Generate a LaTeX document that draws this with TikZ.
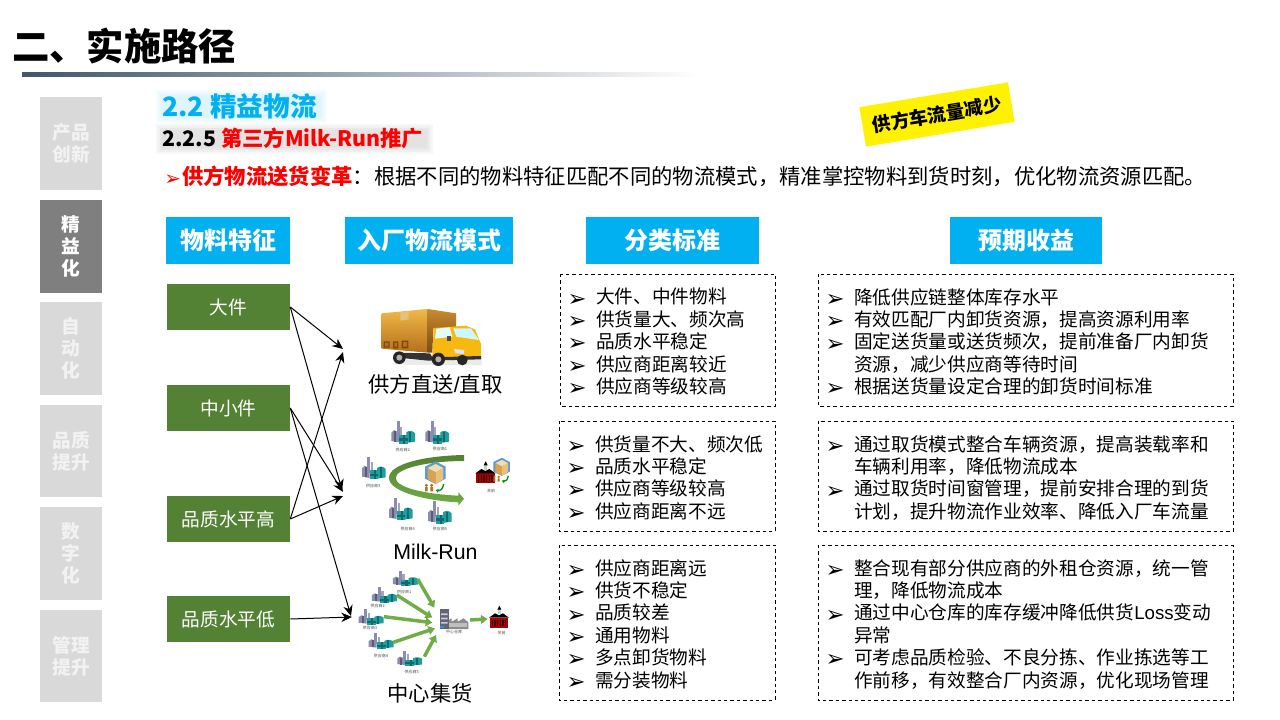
\documentclass[tikz,border=0pt]{standalone}
\usepackage{fontspec}
\setmainfont{Noto Sans CJK SC}
\newfontfamily\latf{Liberation Sans}
\newfontfamily\dej{DejaVu Sans}
\usetikzlibrary{arrows.meta}
\definecolor{hdrblue}{HTML}{00B0F0}
\definecolor{cellgreen}{HTML}{548235}
\definecolor{sidegray}{HTML}{D9D9D9}
\definecolor{sidedark}{HTML}{7F7F7F}
\definecolor{rulestart}{HTML}{44546A}
\definecolor{swoosh}{HTML}{70AD47}
\definecolor{swooshd}{HTML}{55812F}
\definecolor{teal1}{HTML}{1E9E9E}
\definecolor{teal2}{HTML}{0F6A6E}
\definecolor{chim}{HTML}{8A8DB0}
\definecolor{boxa}{HTML}{F0B848}
\definecolor{boxb}{HTML}{B5701A}
\definecolor{boxc}{HTML}{C88A2E}
\definecolor{boxd}{HTML}{7A4A12}
\definecolor{cabcol}{HTML}{F7B90F}
\definecolor{hexcol}{HTML}{5B9BD5}
\definecolor{tana}{HTML}{D9A24E}
\definecolor{tanb}{HTML}{E8C078}
\definecolor{tanc}{HTML}{F2DDB0}
\newcommand\bul{\makebox[20.25pt][l]{\smash{\raisebox{-1.6pt}{\dej\fontsize{17}{17}\selectfont\hspace{-1.2pt}➢}}}}
\newcommand\cont{\makebox[20.25pt]{}}
\newcommand\fa[6]{\pic at (#2,#3) {fact}; \node[tinylab] (#1) at (#5,#6) {#4};}
\newcommand\fb[6]{\pic[xscale=1.05,yscale=0.68] at (#2,#3) {fact}; \node[tinylab] (#1) at (#5,#6) {#4};}
\tikzset{
  sidebox/.style={minimum width=46.5pt,minimum height=69.5pt,inner sep=0pt,fill=sidegray,text=white!95!black,align=center,font=\fontsize{14}{16.5}\selectfont\bfseries},
  sideact/.style={sidebox,fill=sidedark,text=white},
  hdr/.style={fill=hdrblue,text=white,inner sep=0pt,minimum height=35.25pt,font=\fontsize{18}{20}\selectfont\bfseries},
  cell/.style={fill=cellgreen,text=white,inner sep=0pt,minimum width=92.25pt,minimum height=34.5pt,font=\fontsize{14}{16}\selectfont},
  dbox/.style={draw=black,line width=0.75pt,dash pattern=on 2.6pt off 2.2pt},
  body/.style={inner sep=0pt,anchor=north west,align=left,font=\fontsize{14}{16.8}\selectfont},
  capt/.style={inner sep=0pt,font=\fontsize{16}{18}\selectfont},
  link/.style={line width=0.75pt,-{Stealth[length=8pt,width=7pt]}},
  tinylab/.style={inner sep=0pt,text=black!70,font=\fontsize{3}{3}\selectfont},
  garrow/.style={draw=swoosh,line width=2.6pt,-{Triangle[length=5pt,width=6.5pt]}},
  fact/.pic={
    \fill[chim] (15,-66) rectangle (24,-18);
    \fill[chim!80!white] (26,-50) rectangle (32,-18);
    \fill[chim] (-1,-32) -- (7,-40) -- (22,-32) -- (22,-3) -- (-1,-7) -- cycle;
    \fill[chim!65!black] (8,-36) rectangle (13,-5);
    \fill[teal1] (22,-26) rectangle (48,1);
    \fill[teal1] (44,-33) .. controls (52,-40) and (64,-38) .. (70,-30) -- (70,-5) -- (44,-1) -- cycle;
    \fill[teal2] (22,-15) rectangle (48,-8);
    \fill[teal2] (34,-26) rectangle (41,1);
    \fill[teal2] (52,-35) rectangle (58,-3);
  },
  boxicon/.pic={
    \fill[hexcol] (0,-30) -- (32,-46) -- (62,-30) -- (62,6) -- (32,22) -- (0,6) -- cycle;
    \fill[tana] (8,-26) -- (32,-14) -- (32,22) -- (8,8) -- cycle;
    \fill[tanb] (32,-14) -- (55,-26) -- (55,8) -- (32,22) -- cycle;
    \fill[tanc] (8,-26) -- (32,-38) -- (55,-26) -- (32,-14) -- cycle;
    \fill[boxb] (4,26) circle (5) (20,26) circle (5);
    \fill[boxb] (0,31) rectangle (8,44) (16,31) rectangle (24,44);
    \draw[green!60!black,line width=1pt,-{Stealth[length=2.4pt,width=3pt]}] (56,22) .. controls (54,38) and (44,44) .. (32,40);
  },
  redfac/.pic={
    \fill[red!65!black] (-2,0) rectangle (54,-30);
    \fill[black] (-4,-30) -- (14,-43) -- (26,-37) -- (38,-43) -- (56,-30) -- cycle;
    \fill[white!80!black] (22,-56) rectangle (32,-40);
    \fill[black] (27,-66) -- (33,-54) -- (21,-54) -- cycle;
    \foreach \q in {6,14,22,30,38,46} \fill[black!75!red] (\q-2,-24) rectangle (\q+2,-4);
  }
}
\begin{document}
\begin{tikzpicture}[x=0.75pt,y=-0.75pt]
\useasboundingbox (0,0) rectangle (1280,720);
\fill[white] (0,0) rectangle (1280,720);
% title
\node[inner sep=0pt,anchor=west,font=\fontsize{28}{30}\selectfont\bfseries] (title) at (12,46) {二、实施路径};
\shade[left color=rulestart,right color=white] (22,73) rectangle (700,77);
% sidebar
\node[sidebox] (s1) at (71,143.5) {产品\\创新};
\node[sideact] (s2) at (71,246.5) {精\\益\\化};
\node[sidebox] (s3) at (71,348.5) {自\\动\\化};
\node[sidebox] (s4) at (71,451) {品质\\提升};
\node[sidebox] (s5) at (71,553.5) {数\\字\\化};
\node[sidebox] (s6) at (71,656) {管理\\提升};
% headings
\fill[hdrblue!4] (156,90) rectangle (327,123);
\fill[hdrblue!7] (158,92) rectangle (325,121);
\fill[hdrblue!10] (160,94) rectangle (323,119);
\fill[hdrblue!13] (162,96) rectangle (321,117);
\fill[black!3] (156,124) rectangle (433,154);
\fill[black!6] (158,126) rectangle (431,152);
\fill[black!9] (160,128) rectangle (429,150);
\fill[black!11] (162,130) rectangle (427,148);
\node[inner sep=0pt,anchor=west,text=hdrblue,font=\fontsize{20}{22}\selectfont\bfseries] (h22) at (162,106) {2.2 精益物流};
\node[inner sep=0pt,anchor=west,font=\fontsize{16}{18}\selectfont\bfseries] (h225) at (162,138.5) {2.2.5 \textcolor{red}{第三方Milk-Run推广}};
\node[inner sep=0pt,anchor=west,font=\fontsize{16}{18}\selectfont] (lead) at (164,176) {\textcolor{red}{\makebox[13.5pt][l]{\smash{\raisebox{-1.2pt}{\dej\fontsize{15}{15}\selectfont ➢}}}\bfseries 供方物流送货变革}：根据不同的物料特征匹配不同的物流模式，精准掌控物料到货时刻，优化物流资源匹配。};
% tag
\node[fill=yellow,rotate=9.5,minimum width=113pt,minimum height=30pt,inner sep=0pt,font=\fontsize{14}{16}\selectfont\bfseries] (tag) at (937,114.5) {供方车流量减少};
% headers
\node[hdr,minimum width=93pt] (c1) at (228,240.5) {物料特征};
\node[hdr,minimum width=126pt] (c2) at (429,240.5) {入厂物流模式};
\node[hdr,minimum width=129.75pt] (c3) at (672.5,240.5) {分类标准};
\node[hdr,minimum width=114pt] (c4) at (1026,240.5) {预期收益};
% cells
\node[cell] (big) at (228.5,307) {大件};
\node[cell] (mid) at (228.5,408) {中小件};
\node[cell] (qhi) at (228.5,519) {品质水平高};
\node[cell] (qlo) at (228.5,619) {品质水平低};
% tips
\coordinate (t1a) at (343,349);
\coordinate (t1b) at (343,352);
\coordinate (t2a) at (342,490);
\coordinate (t2b) at (343,492);
\coordinate (t2c) at (343,496);
\coordinate (t3a) at (351,616);
\coordinate (t3b) at (352,617);
\draw[link] (big.east) -- (t1a);
\draw[link] (big.east) -- (t2a);
\draw[link] (mid.east) -- (t2b);
\draw[link] (mid.east) -- (t3a);
\draw[link] (qhi.east) -- (t1b);
\draw[link] (qhi.east) -- (t2c);
\draw[link] (qlo.east) -- (t3b);
% truck
\begin{scope}[shift={(375,300)},x=0.25pt,y=-0.25pt]
  \fill[black!8] (60,180) -- (320,174) -- (320,196) -- (60,194) -- cycle;
  \shade[top color=boxa,bottom color=boxb] (20,40) -- (157,27) -- (157,158) -- (20,146) -- cycle;
  \shade[top color=boxc,bottom color=boxd] (157,27) -- (243,40) -- (243,82) -- (175,85) -- (172,158) -- (157,158) -- cycle;
  \fill[tanb] (76,36) -- (101,33) -- (101,58) -- (76,62) -- cycle;
  \fill[boxd] (26,124) rectangle (44,143) (54,124) rectangle (70,145) (80,122) rectangle (100,145);
  \fill[boxb] (30,128) rectangle (40,139) (58,128) rectangle (66,140) (84,126) rectangle (96,140);
  \fill[cabcol] (176,84) -- (272,77) -- (300,88) -- (318,132) -- (318,172) -- (172,172) -- cycle;
  \fill[blue!10!cyan!12!white] (184,86) -- (224,82) -- (232,110) -- (180,116) -- cycle;
  \fill[blue!15!cyan!20!white] (235,85) -- (288,85) -- (312,120) -- (244,110) -- cycle;
  \fill[black!70] (216,108) rectangle (228,123);
  \fill[white!88!blue] (236,147) -- (268,150) -- (266,162) -- (242,160) -- cycle;
  \fill[black!80] (60,158) -- (165,160) -- (172,172) -- (318,168) -- (318,178) -- (160,182) -- (60,172) -- cycle;
  \fill[black!85] (73,173) circle (19) (190,178) circle (20) (262,180) circle (16);
  \fill[black!30] (73,173) circle (9) (190,178) circle (9);
\end{scope}
\node[capt] (capa) at (435.5,384) {供方直送{\latf /}直取};
% milk-run picture
\begin{scope}[shift={(355,415)},x=0.25pt,y=-0.25pt]
  \fa{m2}{110}{85}{供应商2}{143}{105}
  \fa{m1}{212}{85}{供应商1}{255}{103}
  \fa{m3}{22}{192}{供应商3}{55}{213}
  \fa{m4}{103}{315}{供应商4}{158}{343}
  \fa{m5}{220}{325}{供应商5}{255}{343}
  \shade[top color=swooshd,bottom color=swoosh] (327,120) .. controls (215,122) and (100,145) .. (102,190) .. controls (104,232) and (220,258) .. (310,262) -- (310,272) -- (327,251) -- (310,232) -- (310,242) .. controls (220,238) and (125,220) .. (122,190) .. controls (120,160) and (220,138) .. (327,138) -- cycle;
  \pic at (210,185) {boxicon};
  \pic at (365,205) {redfac};
  \pic[scale=0.8] at (415,165) {boxicon};
  \node[tinylab] (m6) at (408,228) {关前};
\end{scope}
\node[capt] (capb) at (435.5,552) {\latf Milk-Run};
% consolidation picture
\begin{scope}[shift={(355,565)},x=0.25pt,y=-0.25pt]
  \fb{d1}{115}{62}{供应商1}{148}{82}
  \fb{d2}{52}{112}{供应商2}{68}{124}
  \fb{d3}{12}{178}{供应商3}{45}{190}
  \fb{d4}{42}{250}{供应商4}{78}{272}
  \fb{d5}{128}{302}{供应商5}{170}{322}
  \fill[black!45] (272,192) -- (272,170) -- (290,160) -- (290,170) -- (308,160) -- (308,170) -- (326,160) -- (340,172) -- (340,192) -- cycle;
  \fill[black!25] (278,175) rectangle (336,186);
  \fill[chim!70!black] (254,133) rectangle (282,192);
  \fill[black!20] (258,145) rectangle (278,150) (258,158) rectangle (278,163) (258,171) rectangle (278,176);
  \fill[cyan!70!teal] (254,182) rectangle (268,190);
  \node[tinylab] (d6) at (297,202) {中心仓库};
  \pic at (406,188) {redfac};
  \node[tinylab] (d7) at (440,203) {关前};
  \draw[garrow] (188,42) -- (238,128);
  \draw[garrow] (125,90) -- (232,158);
  \draw[garrow] (87,155) -- (232,173);
  \draw[garrow] (115,232) -- (240,190);
  \draw[garrow] (208,275) -- (243,210);
  \draw[garrow] (345,165) -- (398,162);
\end{scope}
\node[capt] (capc) at (430,693) {中心集货};
% dashed boxes
\draw[dbox] (560,274) rectangle (775,406);
\draw[dbox] (559,421) rectangle (775,531);
\draw[dbox] (559,545) rectangle (775,700);
\draw[dbox] (818,274) rectangle (1233,406);
\draw[dbox] (818,421) rectangle (1233,531);
\draw[dbox] (818,545) rectangle (1233,700);
\node[body] (a1) at (569,288) {\bul 大件、中件物料\\\bul 供货量大、频次高\\\bul 品质水平稳定\\\bul 供应商距离较近\\\bul 供应商等级较高};
\node[body] (a2) at (568,435) {\bul 供货量不大、频次低\\\bul 品质水平稳定\\\bul 供应商等级较高\\\bul 供应商距离不远};
\node[body] (a3) at (568,559) {\bul 供应商距离远\\\bul 供货不稳定\\\bul 品质较差\\\bul 通用物料\\\bul 多点卸货物料\\\bul 需分装物料};
\node[body] (b1) at (827,288) {\bul 降低供应链整体库存水平\\\bul 有效匹配厂内卸货资源，提高资源利用率\\\bul 固定送货量或送货频次，提前准备厂内卸货\\\cont 资源，减少供应商等待时间\\\bul 根据送货量设定合理的卸货时间标准};
\node[body] (b2) at (827,435) {\bul 通过取货模式整合车辆资源，提高装载率和\\\cont 车辆利用率，降低物流成本\\\bul 通过取货时间窗管理，提前安排合理的到货\\\cont 计划，提升物流作业效率、降低入厂车流量};
\node[body] (b3) at (827,559) {\bul 整合现有部分供应商的外租仓资源，统一管\\\cont 理，降低物流成本\\\bul 通过中心仓库的库存缓冲降低供货{\latf Loss}变动\\\cont 异常\\\bul 可考虑品质检验、不良分拣、作业拣选等工\\\cont 作前移，有效整合厂内资源，优化现场管理};
\end{tikzpicture}
\end{document}
